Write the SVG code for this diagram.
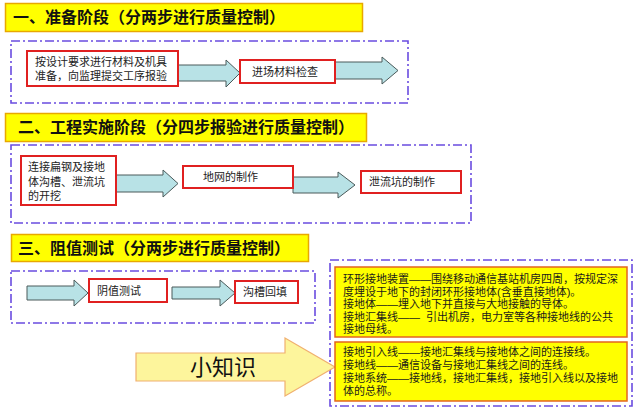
<svg xmlns="http://www.w3.org/2000/svg" width="640" height="414" viewBox="0 0 640 414">
<style>
.hdr{fill:#ffff00;stroke:#e8a800;stroke-width:1.5}
.ht{font-family:"Noto Sans CJK SC",sans-serif;font-size:16px;font-weight:bold;fill:#111}
.grp{fill:none;stroke:#6a4ce0;stroke-width:1.6;stroke-dasharray:9 3 2 3}
.nd{fill:#fff;stroke:#e02020;stroke-width:2}
.nt{font-family:"Liberation Sans","Noto Sans CJK SC",sans-serif;font-size:11px;fill:#222}
.ar{fill:#b8e2e6;stroke:#4a5a5a;stroke-width:1}
.kb{fill:#ffff00;stroke:#e4661e;stroke-width:1.5}
.kt{font-family:"Liberation Sans","Noto Sans CJK SC",sans-serif;font-size:11px;fill:#1a1a1a}
</style>
<rect width="640" height="414" fill="#fff"/>
<g id="groups">
<rect class="grp" x="11" y="41" width="397" height="62"/>
<rect class="grp" x="11" y="145" width="460" height="78"/>
<rect class="grp" x="11" y="271" width="304" height="52"/>
<rect class="grp" x="330" y="260" width="302" height="146"/>
</g>
<g id="header1"><rect class="hdr" x="5.5" y="3.5" width="357" height="28"/><text class="ht" x="13" y="23">一、准备阶段（分两步进行质量控制）</text></g>
<g id="header2"><rect class="hdr" x="5.5" y="113.5" width="361" height="28"/><text class="ht" x="18" y="133">二、工程实施阶段（分四步报验进行质量控制）</text></g>
<g id="header3"><rect class="hdr" x="11.5" y="234.5" width="297" height="27"/><text class="ht" x="18" y="254">三、阻值测试（分两步进行质量控制）</text></g>
<g id="connectors">
<polygon class="ar" points="178,65 226,65 226,60 240,73 226,87 226,81 178,81"/>
<polygon class="ar" points="335,62 382,62 382,57 398,70.5 382,84 382,79 335,79"/>
<polygon class="ar" points="116,175 163,175 163,170 178,183.5 163,197 163,192 116,192"/>
<polygon class="ar" points="293,177 338,177 338,172 355,185 338,198 338,193 293,193"/>
<polygon class="ar" points="27,286 74,286 74,280 88,293 74,306 74,300 27,300"/>
<polygon class="ar" points="172,287 220,287 220,280 235,293 220,306 220,299 172,299"/>
</g>
<g id="n1"><rect class="nd" x="27" y="51" width="151" height="35"/><text class="nt" x="35" y="66">按设计要求进行材料及机具</text><text class="nt" x="35" y="80">准备，向监理提交工序报验</text></g>
<g id="n2"><rect class="nd" x="240" y="60" width="95" height="23"/><text class="nt" x="252" y="76">进场材料检查</text></g>
<g id="n3"><rect class="nd" x="21" y="156" width="95" height="49"/><text class="nt" x="28" y="171">连接扁钢及接地</text><text class="nt" x="28" y="186">体沟槽、泄流坑</text><text class="nt" x="28" y="200">的开挖</text></g>
<g id="n4"><rect class="nd" x="183" y="166" width="110" height="22"/><text class="nt" x="203" y="181">地网的制作</text></g>
<g id="n5"><rect class="nd" x="361" y="171" width="100" height="22"/><text class="nt" x="369" y="186">泄流坑的制作</text></g>
<g id="n6"><rect class="nd" x="89" y="279" width="78" height="23"/><text class="nt" x="97" y="295">阴值测试</text></g>
<g id="n7"><rect class="nd" x="235" y="281" width="63" height="22"/><text class="nt" x="243" y="296">沟槽回填</text></g>
<g id="tip">
<polygon points="136,353 285,353 285,338 335,367 285,396 285,381 136,381" fill="#fdf59c" stroke="#f0b070" stroke-width="1.2"/>
<text x="223" y="375" text-anchor="middle" font-family="'Noto Sans CJK SC',sans-serif" font-size="22" fill="#111">小知识</text>
</g>
<g id="boxA"><rect class="kb" x="335" y="267" width="292" height="70"/>
<text class="kt" x="343" y="283">环形接地装置——围绕移动通信基站机房四周，按规定深</text>
<text class="kt" x="343" y="295.5">度埋设于地下的封闭环形接地体(含垂直接地体)。</text>
<text class="kt" x="343" y="308">接地体——埋入地下并直接与大地接触的导体。</text>
<text class="kt" x="343" y="320.5">接地汇集线——<tspan x="426">引出机房，电力室等各种接地线的公共</tspan></text>
<text class="kt" x="343" y="333">接地母线。</text>
</g>
<g id="boxB"><rect class="kb" x="335" y="342" width="292" height="59"/>
<text class="kt" x="343" y="356">接地引入线——接地汇集线与接地体之间的连接线。</text>
<text class="kt" x="343" y="368.5">接地线——通信设备与接地汇集线之间的连线。</text>
<text class="kt" x="343" y="381.5">接地系统——接地线，接地汇集线，接地引入线以及接地</text>
<text class="kt" x="343" y="394.5">体的总称。</text>
</g>
</svg>
